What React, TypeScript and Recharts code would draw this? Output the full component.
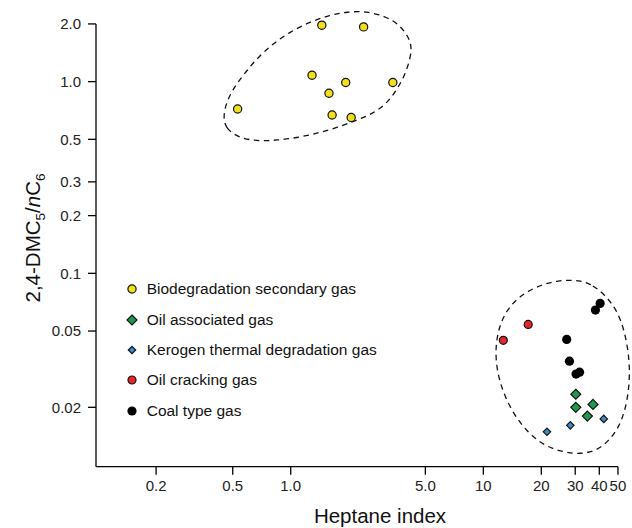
import React from 'react'
import {
  ScatterChart, Scatter, XAxis, YAxis, ReferenceLine, Legend,
} from 'recharts'

const FONT = '"Liberation Sans", Arial, Helvetica, sans-serif'

// log axis ranges; the plot box is a bit larger than the drawn axes so the
// dashed group outlines can run past the last ticks
const X_MIN = 0.0975
const X_MAX = 59
const Y_MIN = 0.0098
const Y_MAX = 2.35
const X_AXIS_END = 50
const Y_AXIS_END = 2

const xTicks = [0.2, 0.5, 1, 5, 10, 20, 30, 40, 50]
const xTickLabels = ['0.2', '0.5', '1.0', '5.0', '10', '20', '30', '40', '50']
const yTicks = [0.02, 0.05, 0.1, 0.2, 0.3, 0.5, 1, 2]
const yTickLabels = ['0.02', '0.05', '0.1', '0.2', '0.3', '0.5', '1.0', '2.0']

// gas samples: heptane index (x) vs 2,4-DMC5/nC6 (y)
const bioX = [1.45, 2.39, 1.29, 1.93, 3.39, 1.58, 0.53, 1.64, 2.06]
const bioY = [1.97, 1.93, 1.08, 0.99, 0.99, 0.87, 0.72, 0.67, 0.65]

const oilAssocX = [30.2, 30.2, 37.1, 34.7]
const oilAssocY = [0.0234, 0.02, 0.0207, 0.018]

const kerogenX = [21.4, 28.3, 42.2]
const kerogenY = [0.0149, 0.0161, 0.0174]

const oilCrackX = [17.1, 12.7]
const oilCrackY = [0.0541, 0.0447]

const coalX = [40.4, 38.2, 27.1, 28.0, 30.3, 31.6]
const coalY = [0.0697, 0.0643, 0.0452, 0.0348, 0.0298, 0.0305]

// dashed outlines around the two groups
const upperRingX = [0.447, 0.456, 0.545, 0.693, 0.846, 1.074, 1.365, 1.733, 2.2, 2.685, 3.15, 3.55, 4.0, 4.3, 4.08, 3.69, 3.15, 2.48, 1.953, 1.6, 1.259, 0.992, 0.812, 0.666, 0.567, 0.504, 0.465]
const upperRingY = [0.669, 0.57, 0.505, 0.489, 0.495, 0.509, 0.537, 0.574, 0.63, 0.682, 0.77, 0.903, 1.125, 1.49, 1.713, 1.971, 2.178, 2.332, 2.313, 2.223, 2.051, 1.819, 1.582, 1.321, 1.081, 0.922, 0.785]

const lowerRingX = [31.78, 37.12, 42.84, 49.45, 54.41, 57.77, 57.08, 52.5, 45.49, 38.47, 31.78, 25.93, 20.91, 17.07, 14.09, 12.21, 11.5, 11.78, 12.96, 15.15, 19.0, 24.43]
const lowerRingY = [0.0922, 0.0868, 0.077, 0.0643, 0.0494, 0.0344, 0.0237, 0.01674, 0.01349, 0.01182, 0.0114, 0.01168, 0.01255, 0.01467, 0.01888, 0.0261, 0.0361, 0.0488, 0.0627, 0.0751, 0.0858, 0.0922]

const legendNames = [
  'Biodegradation secondary gas',
  'Oil associated gas',
  'Kerogen thermal degradation gas',
  'Oil cracking gas',
  'Coal type gas',
]

const toPoints = (xs: number[], ys: number[]) => xs.map((x, i) => ({ x, y: ys[i] }))

type MarkerKind = { kind: 'circle' | 'diamond'; fill: string; size: number; outline: boolean }

const MARKERS: MarkerKind[] = [
  { kind: 'circle', fill: '#F2E01F', size: 4.1, outline: true },
  { kind: 'diamond', fill: '#1E9A4F', size: 5.0, outline: true },
  { kind: 'diamond', fill: '#3C8DCB', size: 3.7, outline: true },
  { kind: 'circle', fill: '#E3262A', size: 4.0, outline: true },
  { kind: 'circle', fill: '#000000', size: 4.6, outline: false },
]

const drawMarker = (m: MarkerKind, cx: number, cy: number) => {
  const stroke = m.outline ? '#111' : 'none'
  if (m.kind === 'circle') {
    return <circle cx={cx} cy={cy} r={m.size} fill={m.fill} stroke={stroke} strokeWidth={1.2} />
  }
  const h = m.size
  return (
    <path
      d={`M${cx},${cy - h}L${cx + h},${cy}L${cx},${cy + h}L${cx - h},${cy}Z`}
      fill={m.fill}
      stroke={stroke}
      strokeWidth={1.2}
      strokeLinejoin="miter"
    />
  )
}

const markerShape = (m: MarkerKind) => (props: any) => drawMarker(m, props.cx, props.cy)
const noShape = () => <g />

const fmt = (ticks: number[], labels: string[]) => (v: number) => {
  const i = ticks.indexOf(v)
  return i >= 0 ? labels[i] : String(v)
}

const GasLegend = () => (
  <div style={{ fontFamily: FONT, fontSize: 15.5, color: '#111' }}>
    {legendNames.map((name, i) => (
      <div key={name} style={{ display: 'flex', alignItems: 'center', height: 30.4, whiteSpace: 'nowrap' }}>
        <svg width={14} height={14} style={{ marginRight: 8, overflow: 'visible' }}>
          {drawMarker(MARKERS[i], 7, 7)}
        </svg>
        <span>{name}</span>
      </div>
    ))}
  </div>
)

const XTitle = () => (
  <text x={380} y={523} textAnchor="middle" fontFamily={FONT} fontSize={20.5} fill="#111">
    Heptane index
  </text>
)

const YTitle = () => (
  <text
    x={0}
    y={0}
    transform="translate(40,238) rotate(-90)"
    textAnchor="middle"
    fontFamily={FONT}
    fontSize={20.5}
    fill="#111"
  >
    2,4-DMC<tspan fontSize={13.5} dy={4.5}>5</tspan>
    <tspan dy={-4.5}>/</tspan>
    <tspan fontStyle="italic">n</tspan>C<tspan fontSize={13.5} dy={4.5}>6</tspan>
  </text>
)

const tickStyle = { fill: '#222', fontSize: 15, fontFamily: FONT }
const tickLineStyle = { stroke: '#000', strokeWidth: 1.3 }
const ringLine = { stroke: '#111', strokeWidth: 1.3, strokeDasharray: '5.5 4.5' }

export default function App() {
  const series = [
    toPoints(bioX, bioY),
    toPoints(oilAssocX, oilAssocY),
    toPoints(kerogenX, kerogenY),
    toPoints(oilCrackX, oilCrackY),
    toPoints(coalX, coalY),
  ]

  return (
    <div style={{ position: 'absolute', left: 0, top: 0, background: '#fff' }}>
      <ScatterChart
        width={632}
        height={528}
        margin={{ top: 10.5, right: 0.2, bottom: 0, left: 0 }}
      >
        <XAxis
          type="number"
          dataKey="x"
          scale="log"
          domain={[X_MIN, X_MAX]}
          ticks={xTicks}
          interval={0}
          tickFormatter={fmt(xTicks, xTickLabels)}
          axisLine={false}
          tickLine={tickLineStyle}
          tickSize={8}
          tickMargin={6}
          tick={tickStyle}
          height={61.3}
          label={XTitle}
        />
        <YAxis
          type="number"
          dataKey="y"
          scale="log"
          domain={[Y_MIN, Y_MAX]}
          ticks={yTicks}
          interval={0}
          tickFormatter={fmt(yTicks, yTickLabels)}
          axisLine={false}
          tickLine={tickLineStyle}
          tickSize={8}
          tickMargin={7}
          tick={tickStyle}
          width={96}
          label={YTitle}
        />

        {/* L-shaped axes stop at the last tick */}
        <ReferenceLine
          segment={[{ x: X_MIN, y: Y_MIN }, { x: X_AXIS_END, y: Y_MIN }]}
          stroke="#000"
          strokeWidth={1.3}
          ifOverflow="visible"
        />
        <ReferenceLine
          segment={[{ x: X_MIN, y: Y_MIN }, { x: X_MIN, y: Y_AXIS_END }]}
          stroke="#000"
          strokeWidth={1.3}
          ifOverflow="visible"
        />

        <Scatter
          data={toPoints(upperRingX, upperRingY)}
          line={ringLine}
          lineJointType="basisClosed"
          shape={noShape}
          legendType="none"
          isAnimationActive={false}
        />
        <Scatter
          data={toPoints(lowerRingX, lowerRingY)}
          line={ringLine}
          lineJointType="basisClosed"
          shape={noShape}
          legendType="none"
          isAnimationActive={false}
        />

        {series.map((pts, i) => (
          <Scatter
            key={legendNames[i]}
            name={legendNames[i]}
            data={pts}
            shape={markerShape(MARKERS[i])}
            isAnimationActive={false}
          />
        ))}

        <Legend
          layout="vertical"
          align="center"
          verticalAlign="middle"
          content={GasLegend}
          wrapperStyle={{ left: 124.7, top: 274.1, width: 'auto', height: 'auto' }}
        />
      </ScatterChart>
    </div>
  )
}
